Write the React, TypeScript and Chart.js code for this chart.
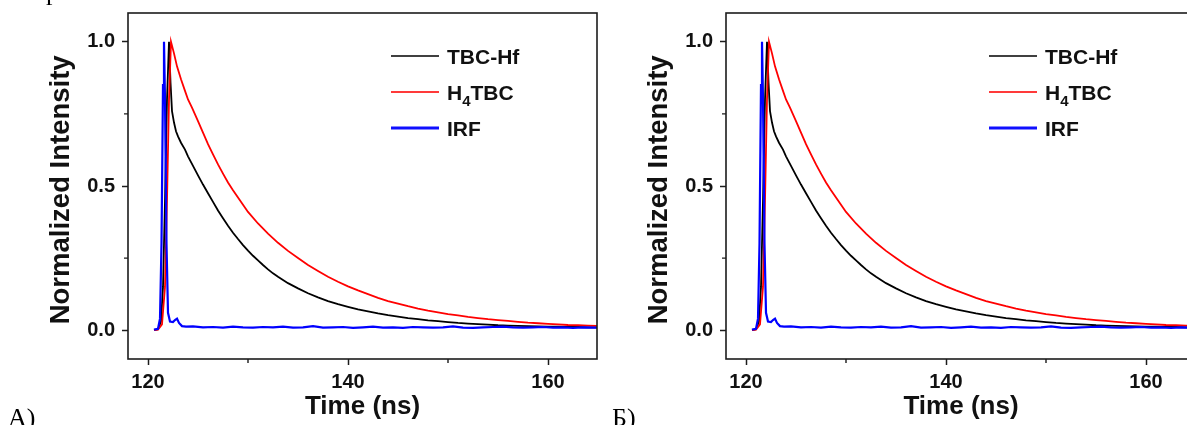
import React, { useEffect, useRef } from "react";
import { Chart, registerables } from "chart.js";

Chart.register(...registerables);

// ---------- data ----------
const HF_TIME = [
  120.6, 121.0, 121.3, 121.5, 121.7, 121.9, 122.1, 122.25, 122.4, 122.6, 122.8, 123.0, 123.3, 123.7, 124.0,
  124.5, 125.0, 125.5, 126.0, 126.5, 127.0, 127.5, 128.0, 128.5, 129.0, 129.5, 130.0, 130.5, 131.0, 131.5,
  132.0, 132.5, 133.0, 133.5, 134.0, 135, 136, 137, 138, 139, 140, 141, 142, 143, 144, 145, 146, 147, 148,
  149, 150, 151, 152, 153, 154, 155, 156, 157, 158, 159, 160, 161, 162, 163, 164, 166,
];
const TBC_HF = [
  0, 0.003, 0.03, 0.15, 0.45, 0.8, 1.0, 0.86, 0.76, 0.72, 0.69, 0.672, 0.65, 0.626, 0.603,
  0.57, 0.537, 0.505, 0.475, 0.445, 0.415, 0.388, 0.362, 0.338, 0.316, 0.295, 0.276, 0.258, 0.242, 0.226,
  0.211, 0.197, 0.185, 0.174, 0.163, 0.145, 0.128, 0.114, 0.101, 0.09, 0.081, 0.072, 0.065, 0.058, 0.052,
  0.047, 0.042, 0.038, 0.034, 0.031, 0.028, 0.025, 0.023, 0.021, 0.019, 0.017, 0.016, 0.015, 0.014, 0.013,
  0.012, 0.012, 0.011, 0.011, 0.01, 0.01,
];

const H4_TIME = [
  120.6, 121.0, 121.4, 121.7, 121.9, 122.1, 122.3, 122.6, 122.9, 123.3, 123.7, 124.0, 124.4, 125.0, 125.5,
  126.0, 126.5, 127.0, 127.5, 128.0, 128.5, 129.0, 130, 131, 132, 133, 134, 135, 136, 137, 138, 139, 140,
  141, 142, 143, 144, 145, 146, 147, 148, 149, 150, 151, 152, 153, 154, 155, 156, 157, 158, 159, 160, 161,
  162, 163, 164, 166,
];
const H4TBC = [
  0, 0.002, 0.02, 0.15, 0.45, 0.8, 1.0, 0.96, 0.915, 0.87, 0.83, 0.8, 0.772, 0.725, 0.685,
  0.645, 0.61, 0.575, 0.543, 0.512, 0.485, 0.46, 0.41, 0.37, 0.335, 0.303, 0.275, 0.25, 0.226, 0.205,
  0.185, 0.168, 0.152, 0.138, 0.125, 0.112, 0.101, 0.092, 0.083, 0.075, 0.068, 0.062, 0.056, 0.051, 0.046,
  0.042, 0.038, 0.035, 0.032, 0.029, 0.026, 0.024, 0.022, 0.02, 0.018, 0.017, 0.016, 0.014,
];

const IRF_TIME = [
  120.6, 121.0, 121.2, 121.35, 121.5, 121.6, 121.7, 121.85, 122.0, 122.2, 122.5, 122.7, 122.9, 123.1, 123.4,
  123.8, 124.5, 125.5, 126.5, 127.5, 128.5, 129.5, 130.5, 131.5, 132.5, 133.5, 134.5, 135.5, 136.5, 137.5,
  138.5, 139.5, 140.5, 141.5, 142.5, 143.5, 144.5, 145.5, 146.5, 147.5, 148.5, 149.5, 150.5, 151.5, 152.5,
  153.5, 154.5, 155.5, 156.5, 157.5, 158.5, 159.5, 160.5, 161.5, 162.5, 163.5, 164.5, 165.5,
];
const IRF = [
  0.002, 0.005, 0.04, 0.3, 0.85, 1.0, 0.8, 0.3, 0.06, 0.03, 0.028, 0.035, 0.04, 0.025, 0.014,
  0.012, 0.013, 0.01, 0.011, 0.009, 0.012, 0.01, 0.009, 0.011, 0.01, 0.012, 0.009, 0.01, 0.014, 0.009,
  0.01, 0.011, 0.008, 0.01, 0.012, 0.009, 0.01, 0.008, 0.011, 0.01, 0.009, 0.01, 0.013, 0.009, 0.008,
  0.01, 0.011, 0.012, 0.01, 0.009, 0.01, 0.011, 0.009, 0.01, 0.008, 0.01, 0.009, 0.009,
];

const SERIES_NAMES = ["TBC-Hf", "H4TBC", "IRF"];
const X_MAJOR = [120, 140, 160];
const X_MINOR = [130, 150];
const Y_MAJOR = [0, 0.5, 1.0];
const Y_MINOR = [0.25, 0.75];

// ---------- styling ----------
const SANS = "'Liberation Sans', Arial, Helvetica, sans-serif";
const SERIF = "'Liberation Serif', 'Times New Roman', serif";
const INK = "#111";

const zip = (xs: number[], ys: number[]) => xs.map((x, i) => ({ x, y: ys[i] }));

const noScalePadding = (s: any) => {
  s.paddingTop = 0;
  s.paddingBottom = 0;
  s.paddingLeft = 0;
  s.paddingRight = 0;
};

const framePlugin = {
  id: "frame",
  afterDraw(chart: any) {
    const { ctx, chartArea } = chart;
    const { left, top, right, bottom } = chartArea;
    ctx.save();
    ctx.strokeStyle = "#1c1c1c";
    ctx.lineWidth = 1.6;
    ctx.strokeRect(left, top, right - left, bottom - top);
    // minor ticks
    ctx.lineWidth = 1.4;
    const xs = chart.scales.x;
    const ys = chart.scales.y;
    ctx.beginPath();
    X_MINOR.forEach((v) => {
      const p = xs.getPixelForValue(v);
      ctx.moveTo(p, bottom);
      ctx.lineTo(p, bottom + 4);
    });
    Y_MINOR.forEach((v) => {
      const p = ys.getPixelForValue(v);
      ctx.moveTo(left, p);
      ctx.lineTo(left - 4, p);
    });
    ctx.stroke();
    ctx.restore();
  },
};

const legendPlugin = {
  id: "customLegend",
  afterDraw(chart: any) {
    const { ctx, chartArea } = chart;
    const { left, top } = chartArea;
    const items = [
      { color: "#000000", w: 1.6, dy: 43 },
      { color: "#ff3a3a", w: 1.8, dy: 79 },
      { color: "#1010ff", w: 2.8, dy: 115 },
    ];
    ctx.save();
    items.forEach((it, i) => {
      const y = top + it.dy;
      ctx.strokeStyle = it.color;
      ctx.lineWidth = it.w;
      ctx.beginPath();
      ctx.moveTo(left + 263, y);
      ctx.lineTo(left + 311, y);
      ctx.stroke();
      ctx.fillStyle = INK;
      ctx.textBaseline = "alphabetic";
      ctx.textAlign = "left";
      const tx = left + 319;
      const by = y + 7.5;
      const name = SERIES_NAMES[i];
      if (name === "H4TBC") {
        ctx.font = `bold 21px ${SANS}`;
        ctx.fillText("H", tx, by);
        const wH = ctx.measureText("H").width;
        ctx.font = `bold 15px ${SANS}`;
        ctx.fillText("4", tx + wH, by + 6);
        const w4 = ctx.measureText("4").width;
        ctx.font = `bold 21px ${SANS}`;
        ctx.fillText("TBC", tx + wH + w4, by);
      } else {
        ctx.font = `bold 21px ${SANS}`;
        ctx.fillText(name, tx, by);
      }
    });
    ctx.restore();
  },
};

function buildConfig(xMin: number, xMax: number): any {
  const tickFont = { family: SANS, size: 20, weight: "bold" as const };
  const xTitleFont = { family: SANS, size: 26, weight: "bold" as const };
  const yTitleFont = { family: SANS, size: 27.5, weight: "bold" as const };
  return {
    type: "line",
    data: {
      datasets: [
        {
          label: SERIES_NAMES[0],
          data: zip(HF_TIME, TBC_HF),
          borderColor: "#000000",
          borderWidth: 1.8,
          pointRadius: 0,
          tension: 0,
          order: 3,
        },
        {
          label: SERIES_NAMES[1],
          data: zip(H4_TIME, H4TBC),
          borderColor: "#ff0000",
          borderWidth: 1.8,
          pointRadius: 0,
          tension: 0,
          order: 2,
        },
        {
          label: SERIES_NAMES[2],
          data: zip(IRF_TIME, IRF),
          borderColor: "#0000ff",
          borderWidth: 2.2,
          pointRadius: 0,
          tension: 0,
          order: 1,
        },
      ],
    },
    options: {
      animation: false,
      responsive: false,
      maintainAspectRatio: false,
      events: [],
      layout: { padding: { top: 13, right: 2, left: 0, bottom: 0 } },
      plugins: { legend: { display: false }, tooltip: { enabled: false } },
      scales: {
        x: {
          type: "linear",
          min: xMin,
          max: xMax,
          afterFit: (s: any) => {
            s.height = 66;
            noScalePadding(s);
          },
          afterBuildTicks: (s: any) => {
            s.ticks = X_MAJOR.map((v) => ({ value: v }));
          },
          ticks: {
            font: tickFont,
            color: INK,
            padding: 5,
            autoSkip: false,
            maxRotation: 0,
            callback: (v: any) => String(v),
          },
          grid: {
            drawOnChartArea: false,
            drawTicks: true,
            tickLength: 6,
            tickWidth: 1.5,
            tickColor: "#1c1c1c",
          },
          border: { display: false },
          title: {
            display: true,
            text: "Time (ns)",
            font: xTitleFont,
            color: INK,
            padding: { top: 0, bottom: 3 },
          },
        },
        y: {
          type: "linear",
          min: -0.1,
          max: 1.1,
          afterFit: (s: any) => {
            s.width = 128;
            noScalePadding(s);
          },
          afterBuildTicks: (s: any) => {
            s.ticks = Y_MAJOR.map((v) => ({ value: v }));
          },
          ticks: {
            font: tickFont,
            color: INK,
            padding: 7,
            autoSkip: false,
            callback: (v: any) => Number(v).toFixed(1),
          },
          grid: {
            drawOnChartArea: false,
            drawTicks: true,
            tickLength: 6,
            tickWidth: 1.5,
            tickColor: "#1c1c1c",
          },
          border: { display: false },
          title: {
            display: true,
            text: "Normalized Intensity ",
            font: yTitleFont,
            color: INK,
            padding: { top: 45, bottom: 0 },
          },
        },
      },
    },
    plugins: [framePlugin, legendPlugin],
  };
}

function Panel({ left, width, xMin, xMax }: { left: number; width: number; xMin: number; xMax: number }) {
  const ref = useRef<HTMLCanvasElement | null>(null);
  useEffect(() => {
    if (!ref.current) return;
    const chart = new Chart(ref.current, buildConfig(xMin, xMax));
    return () => chart.destroy();
  }, [xMin, xMax]);
  return (
    <canvas
      ref={ref}
      width={width}
      height={425}
      style={{ position: "absolute", left, top: 0, width, height: 425, display: "block" }}
    />
  );
}

const labelStyle: React.CSSProperties = {
  position: "absolute",
  top: 405,
  fontFamily: SERIF,
  fontSize: 26,
  lineHeight: "26px",
  color: "#000",
  whiteSpace: "nowrap",
};

export default function App() {
  return (
    <div
      style={{
        position: "absolute",
        left: 0,
        top: 0,
        width: 1187,
        height: 425,
        overflow: "hidden",
        background: "#ffffff",
      }}
    >
      <Panel left={0} width={599} xMin={118} xMax={164.9} />
      <Panel left={598} width={600} xMin={118} xMax={165} />
      <div style={{ ...labelStyle, top: -21, left: 46 }}>р</div>
      <div style={{ ...labelStyle, left: 8 }}>A)</div>
      <div style={{ ...labelStyle, left: 612 }}>Б)</div>
    </div>
  );
}
